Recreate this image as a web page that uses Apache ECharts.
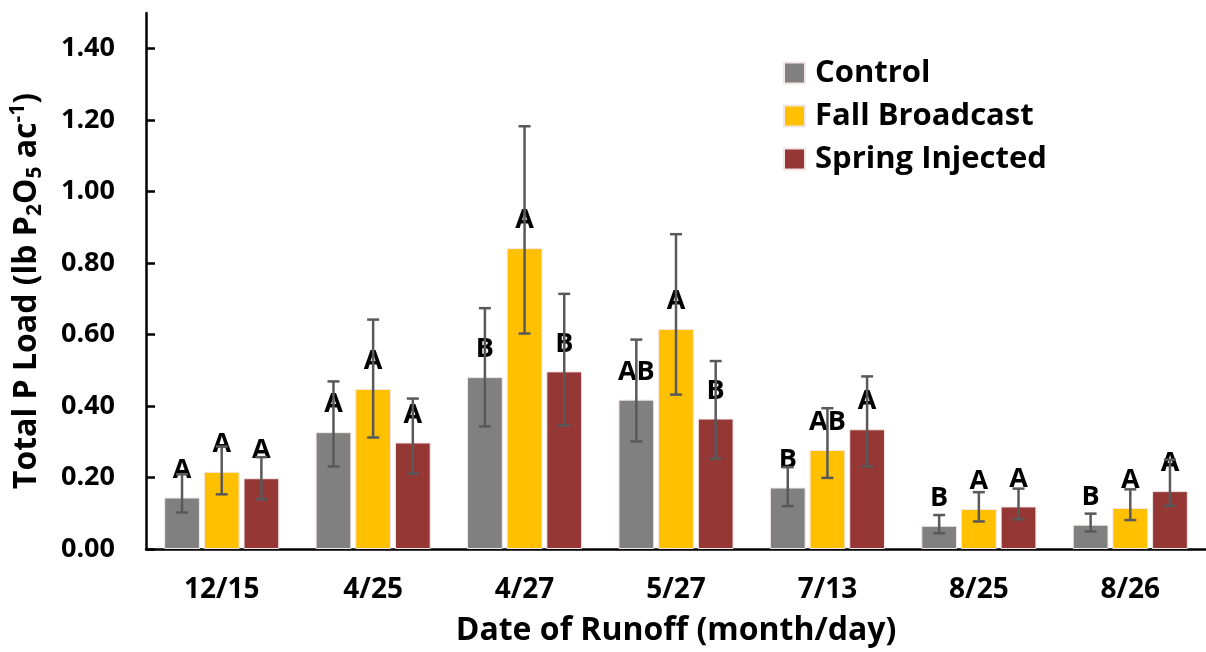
<!DOCTYPE html>
<html>
<head>
<meta charset="utf-8">
<script src="https://cdn.jsdelivr.net/npm/echarts@6/dist/echarts.min.js"></script>
<style>
  html, body { margin: 0; padding: 0; background: #fff; }
  #chart { width: 1206px; height: 652px; }
</style>
</head>
<body>
<div id="chart"></div>
<script>
const categories = ['12/15', '4/25', '4/27', '5/27', '7/13', '8/25', '8/26'];
const yTicks = [0, 0.2, 0.4, 0.6, 0.8, 1.0, 1.2, 1.4];

const control = [0.144, 0.327, 0.481, 0.418, 0.172, 0.065, 0.068];
const fallBroadcast = [0.216, 0.448, 0.842, 0.616, 0.277, 0.112, 0.115];
const springInjected = [0.198, 0.298, 0.497, 0.365, 0.335, 0.119, 0.162];

// error bar ends (low, high)
const controlLow = [0.102, 0.231, 0.343, 0.301, 0.120, 0.044, 0.049];
const controlHigh = [0.209, 0.469, 0.674, 0.586, 0.229, 0.095, 0.099];
const fallLow = [0.153, 0.312, 0.603, 0.432, 0.199, 0.077, 0.081];
const fallHigh = [0.287, 0.642, 1.183, 0.881, 0.394, 0.159, 0.167];
const springLow = [0.139, 0.211, 0.346, 0.253, 0.231, 0.083, 0.121];
const springHigh = [0.257, 0.421, 0.714, 0.526, 0.483, 0.169, 0.250];

// significance letters
const controlLetters = ['A', 'A', 'B', 'AB', 'B', 'B', 'B'];
const fallLetters = ['A', 'A', 'A', 'A', 'AB', 'A', 'A'];
const springLetters = ['A', 'A', 'B', 'B', 'A', 'A', 'A'];

const FONT = 'Open Sans';
const CAT_GAP = 0.24;
const BAR_GAP = 0.11;

const chart = echarts.init(document.getElementById('chart'));

function barSeries(name, data, letters, color) {
  return {
    name: name,
    type: 'bar',
    data: data,
    z: 2,
    itemStyle: { color: color, borderColor: '#f4e6e6', borderWidth: 1 },
    label: {
      show: true,
      position: 'top',
      distance: 14,
      formatter: p => letters[p.dataIndex],
      color: '#000',
      fontFamily: FONT,
      fontWeight: 'bold',
      fontSize: 27
    }
  };
}

function errorSeries(low, high, idx) {
  return {
    type: 'custom',
    z: 5,
    silent: true,
    data: categories.map((c, i) => [i, low[i], high[i]]),
    renderItem: (params, api) => {
      const band = api.size([1, 0])[0];
      const w = band * (1 - CAT_GAP) / (3 + 2 * BAR_GAP);
      const offset = (idx - 1) * w * (1 + BAR_GAP);
      const lo = api.coord([api.value(0), api.value(1)]);
      const hi = api.coord([api.value(0), api.value(2)]);
      const x = lo[0] + offset;
      const cap = 6;
      const style = { stroke: '#595959', lineWidth: 2.5 };
      return {
        type: 'group',
        children: [
          { type: 'line', shape: { x1: x, y1: lo[1], x2: x, y2: hi[1] }, style: style },
          { type: 'line', shape: { x1: x - cap, y1: lo[1], x2: x + cap, y2: lo[1] }, style: style },
          { type: 'line', shape: { x1: x - cap, y1: hi[1], x2: x + cap, y2: hi[1] }, style: style }
        ]
      };
    }
  };
}

const option = {
  backgroundColor: '#fff',
  animation: false,
  grid: { left: 142, right: 0, top: 13, bottom: 102 },
  legend: {
    orient: 'vertical',
    left: 783,
    top: 57,
    padding: 0,
    itemWidth: 21,
    itemHeight: 21,
    itemGap: 11,
    icon: 'rect',
    data: ['Control', 'Fall Broadcast', 'Spring Injected'],
    textStyle: {
      fontFamily: FONT,
      fontWeight: 'bold',
      fontSize: 31,
      lineHeight: 32,
      color: '#000',
      padding: [0, 0, 0, 5]
    }
  },
  xAxis: {
    type: 'category',
    data: categories,
    axisLine: { lineStyle: { color: '#000', width: 2.5 } },
    axisTick: { show: false },
    axisLabel: {
      margin: 27,
      color: '#000',
      fontFamily: FONT,
      fontWeight: 'bold',
      fontSize: 28
    },
    name: 'Date of Runoff (month/day)',
    nameLocation: 'middle',
    nameGap: 66,
    nameTextStyle: {
      color: '#000',
      fontFamily: FONT,
      fontWeight: 'bold',
      fontSize: 32
    }
  },
  yAxis: {
    type: 'value',
    min: 0,
    max: 1.5,
    interval: 0.2,
    splitLine: { show: false },
    axisLine: { show: true, lineStyle: { color: '#000', width: 2.5 } },
    axisTick: {
      show: true,
      inside: true,
      length: 9,
      lineStyle: { color: '#000', width: 2.5 },
      customValues: yTicks
    },
    axisLabel: {
      margin: 31,
      color: '#000',
      fontFamily: FONT,
      fontWeight: 'bold',
      fontSize: 27,
      customValues: yTicks,
      formatter: v => v.toFixed(2)
    },
    name: '{m|Total P Load (lb P}{sub|2}{m|O}{sub|5}{m| ac}{sup|-1}{m|)}',
    nameLocation: 'middle',
    nameGap: 100,
    nameRotate: 90,
    nameTextStyle: {
      padding: [0, 20, 0, 0],
      rich: {
        m: { fontFamily: FONT, fontWeight: 'bold', fontSize: 32, color: '#000', lineHeight: 38 },
        sub: { fontFamily: FONT, fontWeight: 'bold', fontSize: 21, color: '#000', lineHeight: 20, verticalAlign: 'bottom' },
        sup: { fontFamily: FONT, fontWeight: 'bold', fontSize: 21, color: '#000', lineHeight: 20, verticalAlign: 'top' }
      }
    }
  },
  series: [
    Object.assign(barSeries('Control', control, controlLetters, '#808080'), {
      barCategoryGap: (CAT_GAP * 100) + '%',
      barGap: (BAR_GAP * 100) + '%'
    }),
    barSeries('Fall Broadcast', fallBroadcast, fallLetters, '#FFC000'),
    barSeries('Spring Injected', springInjected, springLetters, '#953735'),
    errorSeries(controlLow, controlHigh, 0),
    errorSeries(fallLow, fallHigh, 1),
    errorSeries(springLow, springHigh, 2)
  ]
};

chart.setOption(option);
</script>
</body>
</html>
